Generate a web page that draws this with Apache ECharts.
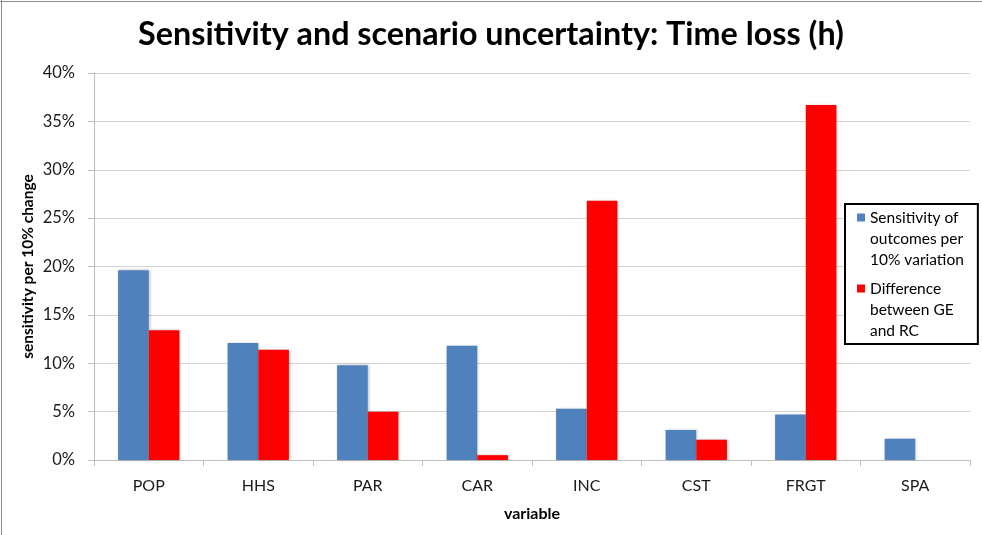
<!DOCTYPE html>
<html>
<head>
<meta charset="utf-8">
<script src="https://cdn.jsdelivr.net/npm/echarts@6/dist/echarts.min.js"></script>
<style>
html,body{margin:0;padding:0;background:#fff;}
#c{width:982px;height:535px;}
</style>
</head>
<body>
<div id="c"></div>
<script>
const categories = ['POP','HHS','PAR','CAR','INC','CST','FRGT','SPA'];
const sensitivity = [0.196, 0.121, 0.098, 0.118, 0.053, 0.031, 0.047, 0.022];
const difference = [0.134, 0.114, 0.050, 0.005, 0.268, 0.021, 0.367, 0];
const yTicks = [0, 0.05, 0.10, 0.15, 0.20, 0.25, 0.30, 0.35, 0.40];
const seriesNames = ['Sensitivity of outcomes per 10% variation', 'Difference between GE and RC'];
const legendLines = [['Sensitivity of','outcomes per','10% variation'], ['Difference','between GE','and RC']];

const FONT = 'Lato';
const chart = echarts.init(document.getElementById('c'));
chart.setOption({
  animation: false,
  backgroundColor: '#fff',
  textStyle: {fontFamily: FONT},
  title: {
    text: 'Sensitivity and scenario uncertainty: Time loss (h)',
    left: 'center', top: 14,
    textStyle: {fontFamily: FONT, fontWeight: 'bold', fontSize: 32.3, color: '#000'}
  },
  graphic: [
    {type: 'line', shape: {x1: 1.5, y1: 0, x2: 1.5, y2: 535}, style: {stroke: '#8c8c8c', lineWidth: 1}},
    {type: 'line', shape: {x1: 0, y1: 1.5, x2: 982, y2: 1.5}, style: {stroke: '#8c8c8c', lineWidth: 1}}
  ],
  grid: {left: 94, right: 12, top: 73, bottom: 75},
  legend: {
    orient: 'vertical',
    left: 845, top: 204,
    backgroundColor: '#fff',
    borderColor: '#000', borderWidth: 2,
    padding: [3, 14, 3, 7],
    itemGap: 8,
    icon: 'none',
    itemWidth: 0, itemHeight: 0,
    data: seriesNames,
    formatter: function (name) {
      const idx = seriesNames.indexOf(name);
      const lines = legendLines[idx];
      const sq = idx === 0 ? 'sqb' : 'sqr';
      return lines.map((l, i) => (i === 0 ? '{' + sq + '|}' : '{sp|}') + '{g|}{t|' + l + '}').join('\n');
    },
    textStyle: {
      fontFamily: FONT, fontSize: 15.5, color: '#000', lineHeight: 21,
      rich: {
        sqb: {width: 8, height: 8, backgroundColor: '#4f81bd'},
        sqr: {width: 8, height: 8, backgroundColor: '#ff0000'},
        sp: {width: 8, height: 8},
        g: {width: 5},
        t: {fontFamily: FONT, fontSize: 15.5, color: '#000', lineHeight: 21}
      }
    }
  },
  xAxis: {
    type: 'category',
    data: categories,
    name: 'variable',
    nameLocation: 'middle',
    nameGap: 46,
    nameTextStyle: {fontFamily: FONT, fontWeight: 'bold', fontSize: 16, color: '#000'},
    axisLine: {lineStyle: {color: '#bfbfbf', width: 1}},
    axisTick: {show: true, length: 6, lineStyle: {color: '#bfbfbf'}},
    axisLabel: {fontFamily: FONT, fontSize: 16, color: '#1a1a1a', margin: 18}
  },
  yAxis: {
    type: 'value',
    min: 0, max: 0.4, interval: 0.05,
    name: 'sensitivity per 10% change',
    nameLocation: 'middle',
    nameGap: 58,
    nameMoveOverlap: false,
    nameTextStyle: {fontFamily: FONT, fontWeight: 'bold', fontSize: 15.5, color: '#000'},
    axisLine: {show: true, lineStyle: {color: '#bfbfbf'}},
    axisTick: {show: true, length: 6, lineStyle: {color: '#bfbfbf'}},
    splitLine: {lineStyle: {color: '#d4d4d4', width: 1}},
    axisLabel: {
      fontFamily: FONT, fontSize: 16.5, color: '#1a1a1a', margin: 19,
      formatter: v => {
        const t = yTicks.find(x => Math.abs(x - v) < 1e-9);
        return Math.round((t === undefined ? v : t) * 100) + '%';
      }
    }
  },
  series: [
    {
      name: seriesNames[0], type: 'bar', data: sensitivity,
      barGap: '0%', barCategoryGap: '44%',
      itemStyle: {color: '#4f81bd', shadowColor: 'rgba(0,0,0,0.25)', shadowBlur: 3, shadowOffsetX: 1}
    },
    {
      name: seriesNames[1], type: 'bar', data: difference,
      barGap: '0%', barCategoryGap: '44%',
      itemStyle: {color: '#ff0000', shadowColor: 'rgba(0,0,0,0.25)', shadowBlur: 3, shadowOffsetX: 1}
    }
  ]
});
</script>
</body>
</html>
